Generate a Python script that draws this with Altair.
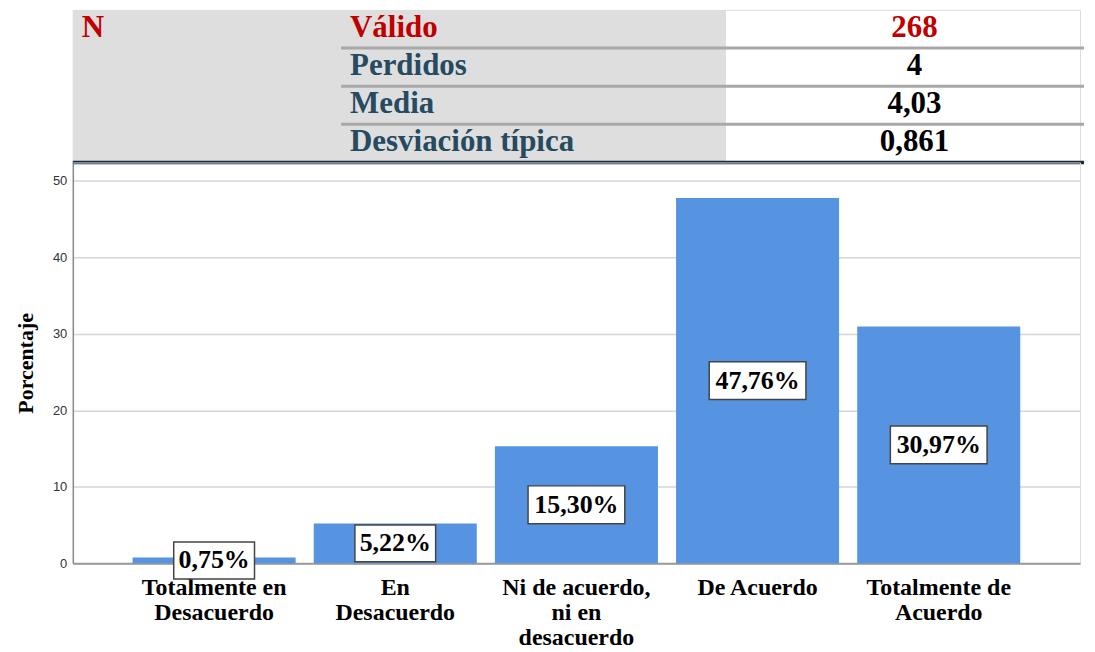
import altair as alt
import pandas as pd

# ---- data ----
cats = ["Totalmente en|Desacuerdo", "En|Desacuerdo", "Ni de acuerdo,|ni en|desacuerdo",
        "De Acuerdo", "Totalmente de|Acuerdo"]
pcts = [0.75, 5.22, 15.30, 47.76, 30.97]

stat_group = "N"
stat_rows = ["Válido", "Perdidos", "Media", "Desviación típica"]
stat_vals = ["268", "4", "4,03", "0,861"]

y_ticks = [0, 10, 20, 30, 40, 50]

# ---- style ----
BAR = "#5694e2"
GRAY = "#dedede"
RED = "#c00000"
SLATE = "#264a60"
SERIF = "Liberation Serif"
SANS = "Liberation Sans"

W = 1010
H_PLOT = 402
H_TAB = 153

bar_df = pd.DataFrame({"cat": cats, "pct": pcts})
bar_df["mid"] = bar_df["pct"] / 2
bar_df["lbl"] = [f"{v:.2f}".replace(".", ",") + "%" for v in pcts]
bar_df["nch"] = bar_df["lbl"].str.len()

tab_df = pd.DataFrame({"row": stat_rows, "val": stat_vals})
tab_df["first"] = [i == 0 for i in range(len(stat_rows))]

# ---- table ----
row_y = alt.Y("row:N", sort=stat_rows, axis=None,
              scale=alt.Scale(paddingInner=0, paddingOuter=0))

base_t = alt.Chart(tab_df)

col1_bg = alt.Chart(pd.DataFrame({"g": [stat_group]})).mark_rect(color=GRAY).encode(
    x=alt.value(0), x2=alt.value(269), y=alt.value(0), y2=alt.value(H_TAB))

col2_bg = base_t.mark_rect(color=GRAY).encode(
    x=alt.value(269), x2=alt.value(655), y=row_y)

seps = base_t.transform_filter("datum.row != '%s'" % stat_rows[0]).mark_rule(
    color="#a8a8a8", strokeWidth=3).encode(
    x=alt.value(269), x2=alt.value(1014),
    y=alt.Y("row:N", sort=stat_rows, axis=None, bandPosition=0,
            scale=alt.Scale(paddingInner=0, paddingOuter=0)))

dark = alt.Chart(pd.DataFrame({"g": [stat_group]})).mark_rule(
    color="#1c2b38", strokeWidth=3.5).encode(
    x=alt.value(0), x2=alt.value(1014), y=alt.value(H_TAB))

n_txt = alt.Chart(pd.DataFrame({"g": [stat_group], "row": [stat_rows[0]]})).mark_text(
    font=SERIF, fontWeight="bold", fontSize=31, align="left", baseline="middle",
    color=RED, dy=-1).encode(x=alt.value(9), y=row_y, text="g:N")

row_txt = base_t.mark_text(
    font=SERIF, fontWeight="bold", fontSize=31, align="left", baseline="middle",
    dy=-1).encode(
    x=alt.value(278), y=row_y, text="row:N",
    color=alt.condition("datum.first", alt.value(RED), alt.value(SLATE)))

val_txt = base_t.mark_text(
    font=SERIF, fontWeight="bold", fontSize=31, align="center", baseline="middle",
    dy=-1).encode(
    x=alt.value(844), y=row_y, text="val:N",
    color=alt.condition("datum.first", alt.value(RED), alt.value("black")))

table = alt.layer(col1_bg, col2_bg, seps, dark, n_txt, row_txt, val_txt).properties(
    width=W, height=H_TAB)

# ---- bar chart ----
x_enc = alt.X("cat:N", sort=cats, title=None,
              scale=alt.Scale(paddingInner=0.1, paddingOuter=0.33),
              axis=alt.Axis(labelExpr="split(datum.label, '|')", labelAngle=0,
                            labelFont=SERIF, labelFontWeight="bold", labelFontSize=24,
                            labelColor="black", labelLineHeight=25, labelPadding=12,
                            ticks=False, domainColor="#9a9a9a", domainWidth=2,
                            labelLimit=300))

y_scale = alt.Scale(domain=[0, 52.4], nice=False)
y_axis = alt.Axis(values=y_ticks, ticks=False, labelFont=SANS, labelFontSize=13,
                  labelColor="#333333", labelPadding=6, domainColor="#8a8a8a",
                  domainWidth=1.5, grid=True, gridColor="#d6d6d6", gridWidth=1.5,
                  titleFont=SERIF, titleFontWeight="bold", titleFontSize=22,
                  titleColor="black", titlePadding=15)

base_b = alt.Chart(bar_df)

bars = base_b.mark_bar(color=BAR).encode(
    x=x_enc, y=alt.Y("pct:Q", scale=y_scale, axis=y_axis, title="Porcentaje"))

box5 = base_b.transform_filter("datum.nch <= 5").mark_rect(
    width=81, height=37, fill="white", stroke="#444444", strokeWidth=1.5).encode(
    x=x_enc, y=alt.Y("mid:Q", scale=y_scale, axis=y_axis, title="Porcentaje"))

box6 = base_b.transform_filter("datum.nch > 5").mark_rect(
    width=97, height=38, fill="white", stroke="#444444", strokeWidth=1.5).encode(
    x=x_enc, y=alt.Y("mid:Q", scale=y_scale, axis=y_axis, title="Porcentaje"))

lbls = base_b.mark_text(font=SERIF, fontWeight="bold", fontSize=26,
                        baseline="middle", color="black", dy=0).encode(
    x=x_enc, y=alt.Y("mid:Q", scale=y_scale, axis=y_axis, title="Porcentaje"),
    text="lbl:N")

plot = alt.layer(bars, box5, box6, lbls).properties(width=W, height=H_PLOT)

chart = alt.vconcat(table, plot, spacing=0, bounds="flush").properties(
    padding={"left": 6, "top": 0, "right": 0, "bottom": 0}
).configure_view(stroke=None).configure(background="white")

chart.save("out.html", embed_options={"renderer": "svg", "actions": False})
